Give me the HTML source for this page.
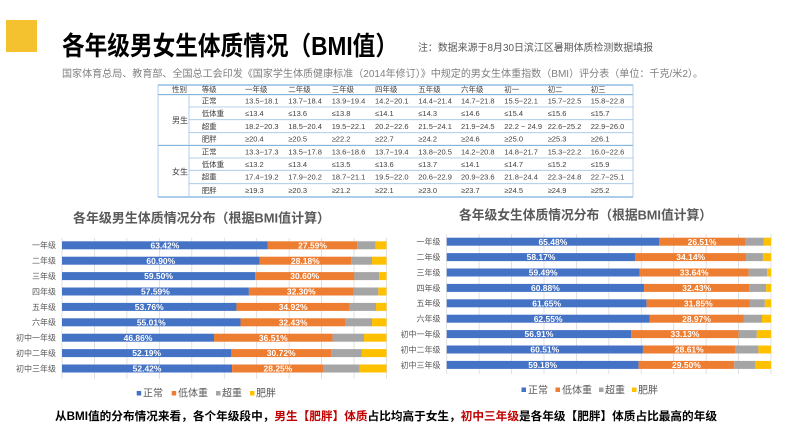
<!DOCTYPE html>
<html>
<head>
<meta charset="utf-8">
<style>
html,body{margin:0;padding:0;background:#fff;}
svg{display:block;font-family:"Liberation Sans","Noto Sans CJK SC",sans-serif;}
.tb{font-size:7.5px;fill:#404040;}
.yl{font-size:8px;fill:#595959;text-anchor:end;}
.vl{font-size:8.5px;fill:#fff;font-weight:bold;text-anchor:middle;}
.lg{font-size:10px;fill:#595959;}
.g{stroke:#d9d9d9;stroke-width:0.8;}
.tl{stroke:#9dc3e6;stroke-width:0.8;}
.td{stroke:#5b9bd5;stroke-width:0.9;}
</style>
</head>
<body>
<svg width="795" height="440" viewBox="0 0 795 440" xmlns="http://www.w3.org/2000/svg">
<rect width="795" height="440" fill="#fff"/>
<!-- header -->
<rect x="6" y="20" width="31" height="32" fill="#f4c12f"/>
<text x="62" y="55" font-size="26" font-weight="bold" fill="#000" textLength="336" lengthAdjust="spacingAndGlyphs">各年级男女生体质情况（BMI值）</text>
<text x="418" y="51" font-size="10" fill="#595959" textLength="235" lengthAdjust="spacingAndGlyphs">注：数据来源于8月30日滨江区暑期体质检测数据填报</text>
<text x="62" y="77" font-size="10" fill="#7f7f7f" textLength="641" lengthAdjust="spacingAndGlyphs">国家体育总局、教育部、全国总工会印发《国家学生体质健康标准（2014年修订）》中规定的男女生体重指数（BMI）评分表（单位：千克/米2）。</text>

<!-- table -->
<line class="td" x1="158" y1="85" x2="633" y2="85"/>
<line class="td" x1="158" y1="94.7" x2="633" y2="94.7"/>
<line class="td" x1="158" y1="145.3" x2="633" y2="145.3"/>
<line class="td" x1="158" y1="197" x2="633" y2="197"/>
<line class="tl" x1="189" y1="107" x2="633" y2="107"/>
<line class="tl" x1="189" y1="119.7" x2="633" y2="119.7"/>
<line class="tl" x1="189" y1="132.7" x2="633" y2="132.7"/>
<line class="tl" x1="189" y1="158" x2="633" y2="158"/>
<line class="tl" x1="189" y1="170.3" x2="633" y2="170.3"/>
<line class="tl" x1="189" y1="183.7" x2="633" y2="183.7"/>
<line class="tl" x1="158" y1="85" x2="158" y2="197"/>
<line class="tl" x1="189" y1="94.7" x2="189" y2="197"/>
<line class="tl" x1="633" y1="85" x2="633" y2="197"/>

<g class="tb">
<text x="172" y="92">性别</text><text x="201.7" y="92">等级</text>
<text x="245" y="92">一年级</text><text x="288.3" y="92">二年级</text><text x="331.7" y="92">三年级</text><text x="375" y="92">四年级</text><text x="418.3" y="92">五年级</text><text x="461" y="92">六年级</text><text x="504.3" y="92">初一</text><text x="547.7" y="92">初二</text><text x="590.7" y="92">初三</text>
<text x="172" y="123" font-size="8">男生</text>
<text x="172" y="174.5" font-size="8">女生</text>

<text x="201.7" y="103.5">正常</text><text x="245" y="103.5">13.5−18.1</text><text x="288.3" y="103.5">13.7−18.4</text><text x="331.7" y="103.5">13.9−19.4</text><text x="375" y="103.5">14.2−20.1</text><text x="418.3" y="103.5">14.4−21.4</text><text x="461" y="103.5">14.7−21.8</text><text x="504.3" y="103.5">15.5−22.1</text><text x="547.7" y="103.5">15.7−22.5</text><text x="590.7" y="103.5">15.8−22.8</text>
<text x="201.7" y="116">低体重</text><text x="245" y="116">≤13.4</text><text x="288.3" y="116">≤13.6</text><text x="331.7" y="116">≤13.8</text><text x="375" y="116">≤14.1</text><text x="418.3" y="116">≤14.3</text><text x="461" y="116">≤14.6</text><text x="504.3" y="116">≤15.4</text><text x="547.7" y="116">≤15.6</text><text x="590.7" y="116">≤15.7</text>
<text x="201.7" y="128.8">超重</text><text x="245" y="128.8">18.2−20.3</text><text x="288.3" y="128.8">18.5−20.4</text><text x="331.7" y="128.8">19.5−22.1</text><text x="375" y="128.8">20.2−22.6</text><text x="418.3" y="128.8">21.5−24.1</text><text x="461" y="128.8">21.9−24.5</text><text x="504.3" y="128.8">22.2 ~ 24.9</text><text x="547.7" y="128.8">22.6−25.2</text><text x="590.7" y="128.8">22.9−26.0</text>
<text x="201.7" y="141.6">肥胖</text><text x="245" y="141.6">≥20.4</text><text x="288.3" y="141.6">≥20.5</text><text x="331.7" y="141.6">≥22.2</text><text x="375" y="141.6">≥22.7</text><text x="418.3" y="141.6">≥24.2</text><text x="461" y="141.6">≥24.6</text><text x="504.3" y="141.6">≥25.0</text><text x="547.7" y="141.6">≥25.3</text><text x="590.7" y="141.6">≥26.1</text>

<text x="201.7" y="154.3">正常</text><text x="245" y="154.3">13.3−17.3</text><text x="288.3" y="154.3">13.5−17.8</text><text x="331.7" y="154.3">13.6−18.6</text><text x="375" y="154.3">13.7−19.4</text><text x="418.3" y="154.3">13.8−20.5</text><text x="461" y="154.3">14.2−20.8</text><text x="504.3" y="154.3">14.8−21.7</text><text x="547.7" y="154.3">15.3−22.2</text><text x="590.7" y="154.3">16.0−22.6</text>
<text x="201.7" y="166.8">低体重</text><text x="245" y="166.8">≤13.2</text><text x="288.3" y="166.8">≤13.4</text><text x="331.7" y="166.8">≤13.5</text><text x="375" y="166.8">≤13.6</text><text x="418.3" y="166.8">≤13.7</text><text x="461" y="166.8">≤14.1</text><text x="504.3" y="166.8">≤14.7</text><text x="547.7" y="166.8">≤15.2</text><text x="590.7" y="166.8">≤15.9</text>
<text x="201.7" y="179.6">超重</text><text x="245" y="179.6">17.4−19.2</text><text x="288.3" y="179.6">17.9−20.2</text><text x="331.7" y="179.6">18.7−21.1</text><text x="375" y="179.6">19.5−22.0</text><text x="418.3" y="179.6">20.6−22.9</text><text x="461" y="179.6">20.9−23.6</text><text x="504.3" y="179.6">21.8−24.4</text><text x="547.7" y="179.6">22.3−24.8</text><text x="590.7" y="179.6">22.7−25.1</text>
<text x="201.7" y="193">肥胖</text><text x="245" y="193">≥19.3</text><text x="288.3" y="193">≥20.3</text><text x="331.7" y="193">≥21.2</text><text x="375" y="193">≥22.1</text><text x="418.3" y="193">≥23.0</text><text x="461" y="193">≥23.7</text><text x="504.3" y="193">≥24.5</text><text x="547.7" y="193">≥24.9</text><text x="590.7" y="193">≥25.2</text>
</g>

<!-- LEFT CHART -->
<text x="73" y="222.5" font-size="13" font-weight="bold" fill="#595959" textLength="257" lengthAdjust="spacingAndGlyphs">各年级男生体质情况分布（根据BMI值计算）</text>
<g>
<line class="g" x1="62" y1="238" x2="62" y2="379"/>
<line class="g" x1="94.45" y1="238" x2="94.45" y2="379"/>
<line class="g" x1="126.9" y1="238" x2="126.9" y2="379"/>
<line class="g" x1="159.35" y1="238" x2="159.35" y2="379"/>
<line class="g" x1="191.8" y1="238" x2="191.8" y2="379"/>
<line class="g" x1="224.25" y1="238" x2="224.25" y2="379"/>
<line class="g" x1="256.7" y1="238" x2="256.7" y2="379"/>
<line class="g" x1="289.15" y1="238" x2="289.15" y2="379"/>
<line class="g" x1="321.6" y1="238" x2="321.6" y2="379"/>
<line class="g" x1="354.05" y1="238" x2="354.05" y2="379"/>
<line class="g" x1="386.5" y1="238" x2="386.5" y2="379"/>
</g>
<g>
<!-- row1 -->
<rect x="62" y="241.3" width="205.8" height="8" fill="#4472c4"/><rect x="267.8" y="241.3" width="89.53" height="8" fill="#ed7d31"/><rect x="357.33" y="241.3" width="18.3" height="8" fill="#a5a5a5"/><rect x="375.63" y="241.3" width="10.87" height="8" fill="#ffc000"/>
<rect x="62" y="256.7" width="197.62" height="8" fill="#4472c4"/><rect x="259.62" y="256.7" width="91.44" height="8" fill="#ed7d31"/><rect x="351.06" y="256.7" width="20.93" height="8" fill="#a5a5a5"/><rect x="371.99" y="256.7" width="14.51" height="8" fill="#ffc000"/>
<rect x="62" y="272.1" width="193.08" height="8" fill="#4472c4"/><rect x="255.08" y="272.1" width="99.3" height="8" fill="#ed7d31"/><rect x="354.38" y="272.1" width="24.66" height="8" fill="#a5a5a5"/><rect x="379.04" y="272.1" width="7.46" height="8" fill="#ffc000"/>
<rect x="62" y="287.5" width="186.88" height="8" fill="#4472c4"/><rect x="248.88" y="287.5" width="104.81" height="8" fill="#ed7d31"/><rect x="353.69" y="287.5" width="24.66" height="8" fill="#a5a5a5"/><rect x="378.35" y="287.5" width="8.15" height="8" fill="#ffc000"/>
<rect x="62" y="302.9" width="174.45" height="8" fill="#4472c4"/><rect x="236.45" y="302.9" width="113.32" height="8" fill="#ed7d31"/><rect x="349.77" y="302.9" width="26.28" height="8" fill="#a5a5a5"/><rect x="376.05" y="302.9" width="10.45" height="8" fill="#ffc000"/>
<rect x="62" y="318.3" width="178.51" height="8" fill="#4472c4"/><rect x="240.51" y="318.3" width="105.24" height="8" fill="#ed7d31"/><rect x="345.75" y="318.3" width="26.28" height="8" fill="#a5a5a5"/><rect x="372.03" y="318.3" width="14.47" height="8" fill="#ffc000"/>
<rect x="62" y="333.7" width="152.06" height="8" fill="#4472c4"/><rect x="214.06" y="333.7" width="118.47" height="8" fill="#ed7d31"/><rect x="332.53" y="333.7" width="31.48" height="8" fill="#a5a5a5"/><rect x="364.01" y="333.7" width="22.49" height="8" fill="#ffc000"/>
<rect x="62" y="349.1" width="169.36" height="8" fill="#4472c4"/><rect x="231.36" y="349.1" width="99.69" height="8" fill="#ed7d31"/><rect x="331.05" y="349.1" width="30.83" height="8" fill="#a5a5a5"/><rect x="361.88" y="349.1" width="24.62" height="8" fill="#ffc000"/>
<rect x="62" y="364.5" width="170.1" height="8" fill="#4472c4"/><rect x="232.1" y="364.5" width="91.67" height="8" fill="#ed7d31"/><rect x="323.77" y="364.5" width="36.02" height="8" fill="#a5a5a5"/><rect x="359.79" y="364.5" width="26.71" height="8" fill="#ffc000"/>
</g>
<g class="vl">
<text x="164.9" y="248.4">63.42%</text><text x="312.57" y="248.4">27.59%</text>
<text x="160.81" y="263.8">60.90%</text><text x="305.34" y="263.8">28.18%</text>
<text x="158.54" y="279.2">59.50%</text><text x="304.73" y="279.2">30.60%</text>
<text x="155.44" y="294.6">57.59%</text><text x="301.29" y="294.6">32.30%</text>
<text x="149.23" y="310">53.76%</text><text x="293.11" y="310">34.92%</text>
<text x="151.26" y="325.4">55.01%</text><text x="293.13" y="325.4">32.43%</text>
<text x="138.03" y="340.8">46.86%</text><text x="273.3" y="340.8">36.51%</text>
<text x="146.68" y="356.2">52.19%</text><text x="281.21" y="356.2">30.72%</text>
<text x="147.05" y="371.6">52.42%</text><text x="277.94" y="371.6">28.25%</text>
</g>
<g class="yl">
<text x="56" y="248.2">一年级</text>
<text x="56" y="263.6">二年级</text>
<text x="56" y="279">三年级</text>
<text x="56" y="294.4">四年级</text>
<text x="56" y="309.8">五年级</text>
<text x="56" y="325.2">六年级</text>
<text x="56" y="340.6">初中一年级</text>
<text x="56" y="356">初中二年级</text>
<text x="56" y="371.4">初中三年级</text>
</g>
<g class="lg">
<rect x="136.7" y="391" width="4.5" height="4.5" fill="#4472c4"/><text x="143" y="396.5">正常</text>
<rect x="171.7" y="391" width="4.5" height="4.5" fill="#ed7d31"/><text x="178" y="396.5">低体重</text>
<rect x="216" y="391" width="4.5" height="4.5" fill="#a5a5a5"/><text x="222" y="396.5">超重</text>
<rect x="250" y="391" width="4.5" height="4.5" fill="#ffc000"/><text x="256" y="396.5">肥胖</text>
</g>

<!-- RIGHT CHART -->
<text x="459" y="219.5" font-size="13" font-weight="bold" fill="#595959" textLength="253" lengthAdjust="spacingAndGlyphs">各年级女生体质情况分布（根据BMI值计算）</text>
<g>
<line class="g" x1="446.7" y1="234" x2="446.7" y2="374"/>
<line class="g" x1="479.13" y1="234" x2="479.13" y2="374"/>
<line class="g" x1="511.56" y1="234" x2="511.56" y2="374"/>
<line class="g" x1="543.99" y1="234" x2="543.99" y2="374"/>
<line class="g" x1="576.42" y1="234" x2="576.42" y2="374"/>
<line class="g" x1="608.85" y1="234" x2="608.85" y2="374"/>
<line class="g" x1="641.28" y1="234" x2="641.28" y2="374"/>
<line class="g" x1="673.71" y1="234" x2="673.71" y2="374"/>
<line class="g" x1="706.14" y1="234" x2="706.14" y2="374"/>
<line class="g" x1="738.57" y1="234" x2="738.57" y2="374"/>
<line class="g" x1="771" y1="234" x2="771" y2="374"/>
</g>
<g>
<rect x="446.7" y="237.7" width="212.35" height="8" fill="#4472c4"/><rect x="659.05" y="237.7" width="85.97" height="8" fill="#ed7d31"/><rect x="745.02" y="237.7" width="18.49" height="8" fill="#a5a5a5"/><rect x="763.51" y="237.7" width="7.49" height="8" fill="#ffc000"/>
<rect x="446.7" y="253.1" width="188.65" height="8" fill="#4472c4"/><rect x="635.35" y="253.1" width="110.72" height="8" fill="#ed7d31"/><rect x="746.07" y="253.1" width="16.86" height="8" fill="#a5a5a5"/><rect x="762.93" y="253.1" width="8.07" height="8" fill="#ffc000"/>
<rect x="446.7" y="268.5" width="192.93" height="8" fill="#4472c4"/><rect x="639.63" y="268.5" width="109.1" height="8" fill="#ed7d31"/><rect x="748.73" y="268.5" width="18.49" height="8" fill="#a5a5a5"/><rect x="767.22" y="268.5" width="3.78" height="8" fill="#ffc000"/>
<rect x="446.7" y="283.9" width="197.43" height="8" fill="#4472c4"/><rect x="644.13" y="283.9" width="105.17" height="8" fill="#ed7d31"/><rect x="749.3" y="283.9" width="16.86" height="8" fill="#a5a5a5"/><rect x="766.16" y="283.9" width="4.84" height="8" fill="#ffc000"/>
<rect x="446.7" y="299.3" width="199.93" height="8" fill="#4472c4"/><rect x="646.63" y="299.3" width="103.29" height="8" fill="#ed7d31"/><rect x="749.92" y="299.3" width="14.92" height="8" fill="#a5a5a5"/><rect x="764.84" y="299.3" width="6.16" height="8" fill="#ffc000"/>
<rect x="446.7" y="314.7" width="202.85" height="8" fill="#4472c4"/><rect x="649.55" y="314.7" width="93.95" height="8" fill="#ed7d31"/><rect x="743.5" y="314.7" width="18.49" height="8" fill="#a5a5a5"/><rect x="761.99" y="314.7" width="9.01" height="8" fill="#ffc000"/>
<rect x="446.7" y="330.1" width="184.56" height="8" fill="#4472c4"/><rect x="631.26" y="330.1" width="107.44" height="8" fill="#ed7d31"/><rect x="738.7" y="330.1" width="18.16" height="8" fill="#a5a5a5"/><rect x="756.86" y="330.1" width="14.14" height="8" fill="#ffc000"/>
<rect x="446.7" y="345.5" width="196.23" height="8" fill="#4472c4"/><rect x="642.93" y="345.5" width="92.78" height="8" fill="#ed7d31"/><rect x="735.71" y="345.5" width="22.7" height="8" fill="#a5a5a5"/><rect x="758.41" y="345.5" width="12.59" height="8" fill="#ffc000"/>
<rect x="446.7" y="360.9" width="191.92" height="8" fill="#4472c4"/><rect x="638.62" y="360.9" width="95.67" height="8" fill="#ed7d31"/><rect x="734.29" y="360.9" width="21.08" height="8" fill="#a5a5a5"/><rect x="755.37" y="360.9" width="15.63" height="8" fill="#ffc000"/>
</g>
<g class="vl">
<text x="552.88" y="244.8">65.48%</text><text x="702.04" y="244.8">26.51%</text>
<text x="541.03" y="260.2">58.17%</text><text x="690.71" y="260.2">34.14%</text>
<text x="543.17" y="275.6">59.49%</text><text x="694.18" y="275.6">33.64%</text>
<text x="545.42" y="291">60.88%</text><text x="696.72" y="291">32.43%</text>
<text x="546.67" y="306.4">61.65%</text><text x="698.28" y="306.4">31.85%</text>
<text x="548.13" y="321.8">62.55%</text><text x="696.53" y="321.8">28.97%</text>
<text x="538.98" y="337.2">56.91%</text><text x="684.98" y="337.2">33.13%</text>
<text x="544.82" y="352.6">60.51%</text><text x="689.32" y="352.6">28.61%</text>
<text x="542.66" y="368">59.18%</text><text x="686.46" y="368">29.50%</text>
</g>
<g class="yl">
<text x="440.5" y="244.6">一年级</text>
<text x="440.5" y="260">二年级</text>
<text x="440.5" y="275.4">三年级</text>
<text x="440.5" y="290.8">四年级</text>
<text x="440.5" y="306.2">五年级</text>
<text x="440.5" y="321.6">六年级</text>
<text x="440.5" y="337">初中一年级</text>
<text x="440.5" y="352.4">初中二年级</text>
<text x="440.5" y="367.8">初中三年级</text>
</g>
<g class="lg">
<rect x="521.5" y="387.5" width="4.5" height="4.5" fill="#4472c4"/><text x="528" y="393.5">正常</text>
<rect x="555.5" y="387.5" width="4.5" height="4.5" fill="#ed7d31"/><text x="562" y="393.5">低体重</text>
<rect x="599" y="387.5" width="4.5" height="4.5" fill="#a5a5a5"/><text x="605" y="393.5">超重</text>
<rect x="632" y="387.5" width="4.5" height="4.5" fill="#ffc000"/><text x="638" y="393.5">肥胖</text>
</g>

<!-- bottom text -->
<text x="55" y="420" font-size="11.5" font-weight="bold" fill="#000" textLength="662" lengthAdjust="spacingAndGlyphs">从BMI值的分布情况来看，各个年级段中，<tspan fill="#c00000">男生【肥胖】体质</tspan>占比均高于女生，<tspan fill="#c00000">初中三年级</tspan>是各年级【肥胖】体质占比最高的年级</text>
</svg>
</body>
</html>
